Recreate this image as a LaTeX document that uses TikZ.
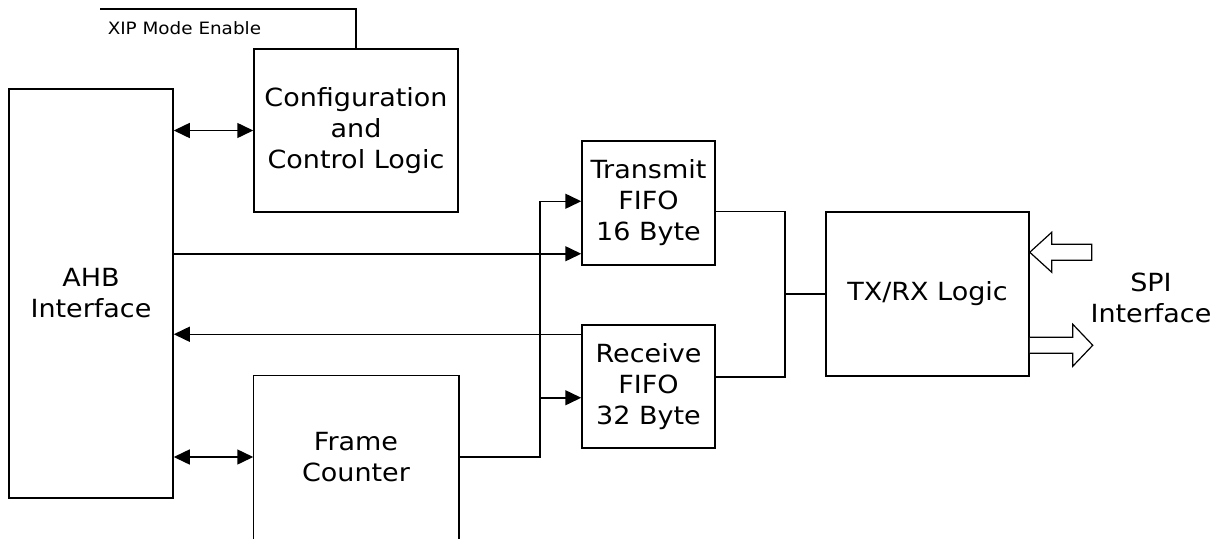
\documentclass[tikz,border=0pt]{standalone}
\usepackage{fontspec}
\setmainfont{DejaVu Sans}[FakeStretch=1.08]
\usetikzlibrary{arrows.meta,calc}
\begin{document}
\begin{tikzpicture}[x=1pt,y=-1pt, line width=1.5pt,
  box/.style={draw, rectangle, inner sep=0pt, align=center, font=\fontsize{25}{31}\selectfont},
  lbl/.style={inner sep=0pt, align=center, font=\fontsize{25}{31}\selectfont},
  arr/.style={-{Triangle[length=16pt,width=15pt]}},
  darr/.style={{Triangle[length=16pt,width=15pt]}-{Triangle[length=16pt,width=15pt]}},
  hollow/.style={draw, fill=white, line width=1.2pt, line join=miter}]
\useasboundingbox (0,0) rectangle (1223,538);

% blocks
\node[box, minimum width=164pt, minimum height=409pt] (ahb) at (91,293.5) {AHB\\Interface};
\node[box, minimum width=204pt, minimum height=163pt] (cfg) at (356,130.5) {Configuration\\and\\Control Logic};
\node[box, minimum width=133pt, minimum height=124pt] (tx) at (648.5,203) {Transmit\\FIFO\\16 Byte};
\node[box, minimum width=133pt, minimum height=123pt] (rx) at (648.5,386.5) {Receive\\FIFO\\32 Byte};
\node[box, minimum width=203pt, minimum height=164pt] (trx) at (927.5,294) {TX/RX Logic};
\node[lbl, minimum width=204pt, minimum height=162pt] (fc) at (356,457) {Frame\\Counter};
\draw ($(fc.south west)+(0,6)$) -- (fc.north west) -- (fc.north east) -- ($(fc.south east)+(0,6)$);
\node[lbl] (spi) at (1151,298) {SPI\\Interface};

% XIP mode enable
\coordinate (xipend) at (100,9);
\draw (cfg.north) |- (xipend);
\node[anchor=west, inner sep=0pt, font=\fontsize{17}{20}\selectfont] (xip) at (107,28) {XIP Mode Enable};

% AHB links
\draw[darr] (cfg.west -| ahb.east) -- (cfg.west);
\draw[darr] (fc.west -| ahb.east) -- (fc.west);
\coordinate (txin) at ($(tx.south west)+(0,-12)$);
\draw[arr] (txin -| ahb.east) -- (txin);
\coordinate (rxout) at ($(rx.north west)+(0,10)$);
\draw[arr] (rxout) -- (rxout -| ahb.east);

% frame counter bus
\coordinate (bus) at (540,0);
\coordinate (txf) at ($(tx.north west)+(0,61)$);
\coordinate (rxf) at ($(rx.south west)+(0,-51)$);
\draw (fc.east) -| (bus |- txf);
\draw[arr] (bus |- txf) -- (txf);
\draw[arr] (bus |- rxf) -- (rxf);

% FIFO to TX/RX logic
\coordinate (mid) at (785,0);
\draw (tx.east |- trx.north) -| (mid |- trx.south) -- (rx.east |- trx.south);
\draw (mid |- trx.west) -- (trx.west);

% SPI hollow arrows
\coordinate (inA) at ($(trx.north east)+(0,41)$);
\draw[hollow] (inA) -- ++(22,-20) -- ++(0,12) -- ++(40,0) -- ++(0,16) -- ++(-40,0) -- ++(0,12) -- cycle;
\coordinate (outA) at ($(trx.north east)+(0,134)$);
\draw[hollow] ($(outA)+(0,-8)$) -- ++(43,0) -- ++(0,-13) -- ++(20,21) -- ++(-20,21) -- ++(0,-13) -- ++(-43,0);
\end{tikzpicture}
\end{document}
